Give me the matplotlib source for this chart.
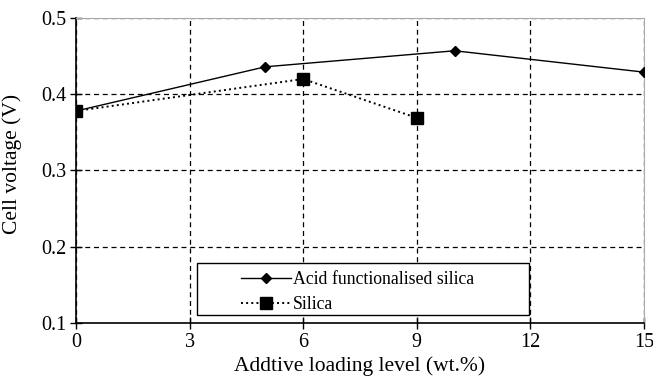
import matplotlib.pyplot as plt
from matplotlib.patches import Rectangle

plt.rcParams['font.family'] = ['Liberation Serif', 'DejaVu Serif']

# values
acid_x = [0, 5, 10, 15]
acid_v = [0.378, 0.436, 0.457, 0.429]
silica_x = [0, 6, 9]
silica_v = [0.378, 0.420, 0.369]

x_ticks = [0, 3, 6, 9, 12, 15]
y_ticks = [0.1, 0.2, 0.3, 0.4, 0.5]

fig = plt.figure(figsize=(6.53, 3.82), dpi=100)
ax = fig.add_axes([0.1164, 0.1545, 0.8698, 0.7984])

ax.plot(acid_x, acid_v, color='black', linestyle='-', linewidth=1.0,
        marker='D', markersize=5, label='Acid functionalised silica', zorder=4)
ax.plot(silica_x, silica_v, color='black', linestyle=':', linewidth=1.4,
        marker='s', markersize=8, label='Silica', zorder=4)

ax.set_xlim(0, 15)
ax.set_ylim(0.1, 0.5)
ax.set_xticks(x_ticks)
ax.set_yticks(y_ticks)
ax.set_yticklabels(['{:.1f}'.format(v) for v in y_ticks])
ax.tick_params(labelsize=14.5, direction='inout', length=8, width=1, colors='black')
ax.tick_params(axis='x', pad=3)
ax.tick_params(axis='y', pad=3)

ax.grid(True, color='black', linestyle=(0, (4, 3)), linewidth=0.9)
ax.set_axisbelow(True)

for side in ['top', 'right']:
    ax.spines[side].set_color('#aaaaaa')
for side in ['left', 'bottom']:
    ax.spines[side].set_color('black')
    ax.spines[side].set_linewidth(1.2)

ax.set_xlabel('Addtive loading level (wt.%)', fontsize=15.5, labelpad=3)
ax.set_ylabel('Cell voltage (V)', fontsize=15.5)
ax.yaxis.set_label_coords(-0.095, 0.52)

# legend box
ax.add_patch(Rectangle((0.213, 0.026), 0.584, 0.171, transform=ax.transAxes,
                       facecolor='white', edgecolor='black', linewidth=1.0, zorder=5))
leg = ax.legend(loc='center left', bbox_to_anchor=(0.29, 0.1), frameon=False,
                fontsize=12.8, handlelength=2.8, handletextpad=0.15, labelspacing=0.45,
                borderpad=0, borderaxespad=0)
leg.set_zorder(6)

fig.savefig('out.png', dpi=100)
